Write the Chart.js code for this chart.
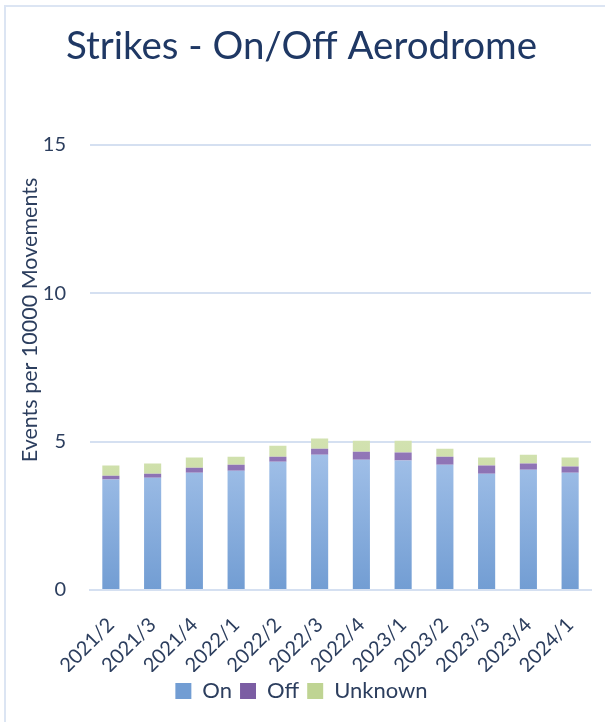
<!DOCTYPE html>
<html>
<head>
<meta charset="utf-8">
<script src="https://cdn.jsdelivr.net/npm/chart.js@4"></script>
<style>
  html, body { margin: 0; padding: 0; background: #fff; }
  #wrap { position: relative; width: 605px; height: 722px; overflow: hidden; }
  #frame { position: absolute; left: 4px; top: 5px; width: 700px; height: 800px;
           border-left: 2px solid #dce5f3; border-top: 2px solid #dce5f3; }
  #myChart { position: absolute; left: 0; top: 0; }
</style>
</head>
<body>
<div id="wrap">
  <div id="frame"></div>
  <canvas id="myChart" width="605" height="722"></canvas>
</div>
<script>
const quarters = ['2021/2', '2021/3', '2021/4', '2022/1', '2022/2', '2022/3',
                  '2022/4', '2023/1', '2023/2', '2023/3', '2023/4', '2024/1'];
const onValues = [3.72, 3.78, 3.95, 4.02, 4.32, 4.56, 4.39, 4.36, 4.22, 3.92, 4.05, 3.95];
const offValues = [0.13, 0.14, 0.17, 0.20, 0.17, 0.20, 0.27, 0.27, 0.27, 0.27, 0.21, 0.21];
const unknownValues = [0.34, 0.34, 0.34, 0.27, 0.37, 0.34, 0.37, 0.40, 0.27, 0.27, 0.30, 0.30];
const yTicks = [0, 5, 10, 15];
const yTitle = 'Events per 10000 Movements';

const textColor = '#2c3e5e';
const gridColor = '#d5e0f1';
const font = 'Lato';

// vertical gradient over the chart, light at top, darker at bottom
function grad(top, bottom) {
  return function(context) {
    const area = context.chart.chartArea;
    if (!area) return bottom;
    const y = context.chart.scales.y;
    const g = context.chart.ctx.createLinearGradient(0, y.getPixelForValue(5), 0, area.bottom);
    g.addColorStop(0, top);
    g.addColorStop(1, bottom);
    return g;
  };
}

// y axis title sits a bit above the middle of the axis, so draw it by hand
const yTitlePlugin = {
  id: 'yTitle',
  afterDraw(chart) {
    const c = chart.ctx;
    c.save();
    c.translate(30, 320);
    c.rotate(-Math.PI / 2);
    c.fillStyle = textColor;
    c.font = '21.5px ' + font;
    c.textAlign = 'center';
    c.textBaseline = 'middle';
    c.fillText(yTitle, 0, 0);
    c.restore();
  }
};

const ctx = document.getElementById('myChart').getContext('2d');
new Chart(ctx, {
  type: 'bar',
  data: {
    labels: quarters,
    datasets: [
      { label: 'On', data: onValues, backgroundColor: grad('#a5c3ea', '#729dd3'), categoryPercentage: 1, barPercentage: 0.41 },
      { label: 'Off', data: offValues, backgroundColor: grad('#9379b9', '#7b5da3'), categoryPercentage: 1, barPercentage: 0.41 },
      { label: 'Unknown', data: unknownValues, backgroundColor: grad('#d2e2b0', '#bfd493'), categoryPercentage: 1, barPercentage: 0.41 }
    ]
  },
  plugins: [yTitlePlugin],
  options: {
    responsive: false,
    animation: false,
    layout: { padding: { left: 12, right: 14, top: 0, bottom: 10 } },
    plugins: {
      title: {
        display: true,
        text: 'Strikes - On/Off Aerodrome',
        color: '#1f3864',
        font: { family: font, size: 38.5, weight: 'normal' },
        padding: { top: 23.5, bottom: 75 }
      },
      legend: {
        position: 'bottom',
        labels: {
          color: textColor,
          font: { family: font, size: 22 },
          boxWidth: 16,
          boxHeight: 16,
          padding: 8
        }
      },
      tooltip: { enabled: false }
    },
    scales: {
      x: {
        stacked: true,
        grid: { display: false },
        border: { color: gridColor, width: 2 },
        afterFit: function(axis) { axis.height = 82; },
        ticks: {
          color: textColor,
          font: { family: font, size: 20 },
          minRotation: 45,
          maxRotation: 45,
          padding: 15
        }
      },
      y: {
        stacked: true,
        min: 0,
        max: 15,
        afterBuildTicks: function(axis) {
          axis.ticks = yTicks.map(v => ({ value: v }));
        },
        afterFit: function(axis) { axis.width = 78; },
        grid: { color: gridColor, lineWidth: 2, drawTicks: false },
        border: { display: false },
        ticks: {
          color: textColor,
          font: { family: font, size: 20 },
          padding: 24
        }
      }
    }
  }
});
</script>
</body>
</html>
